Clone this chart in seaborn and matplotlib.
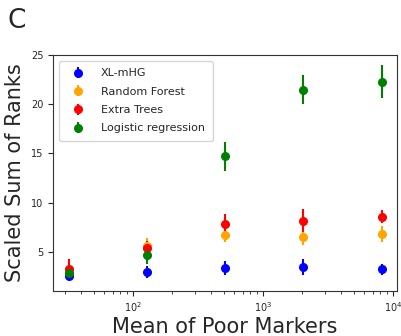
import numpy as np
import pandas as pd
import seaborn as sns
import matplotlib
matplotlib.use("Agg")
import matplotlib.pyplot as plt

# mean number of poor markers (x positions, log scale)
poor_markers = [32, 128, 512, 2048, 8192]

methods = ["XL-mHG", "Random Forest", "Extra Trees", "Logistic regression"]
colors = ["blue", "orange", "red", "green"]

# scaled sum of ranks
xlmhg_mean = [2.5, 2.95, 3.3, 3.45, 3.2]
rf_mean = [3.1, 5.6, 6.7, 6.5, 6.8]
et_mean = [3.25, 5.4, 7.85, 8.15, 8.55]
lr_mean = [2.8, 4.7, 14.7, 21.5, 22.3]

xlmhg_err = [0.4, 0.6, 0.7, 0.8, 0.55]
rf_err = [0.5, 0.8, 0.7, 0.8, 0.85]
et_err = [1.0, 0.7, 1.0, 1.15, 0.65]
lr_err = [0.4, 1.0, 1.5, 1.5, 1.7]

means = [xlmhg_mean, rf_mean, et_mean, lr_mean]
errs = [xlmhg_err, rf_err, et_err, lr_err]

rows = []
for m, mu, er in zip(methods, means, errs):
    for x, y, e in zip(poor_markers, mu, er):
        rows.append({"method": m, "poor": x, "score": y, "err": e})
df = pd.DataFrame(rows)

sns.set_style("ticks")
fig = plt.figure(figsize=(4.02, 3.36), dpi=100)
ax = fig.add_axes([0.132, 0.134, 0.856, 0.702])

for m, c in zip(methods, colors):
    d = df[df["method"] == m]
    ax.errorbar(d["poor"], d["score"], yerr=d["err"], fmt="o", color=c,
                ms=5.5, elinewidth=1.5, label=m)

ax.set_xscale("log")
ax.set_ylim(1.0, 25)
ax.set_yticks([5, 10, 15, 20, 25])
ax.tick_params(axis="both", labelsize=7, colors=".15")
ax.tick_params(axis="x", which="minor", length=2)
for s in ax.spines.values():
    s.set_color(".2")
    s.set_linewidth(0.8)

ax.set_xlabel("Mean of Poor Markers", fontsize=15, labelpad=2)
ax.set_ylabel("Scaled Sum of Ranks", fontsize=15, labelpad=4)
ax.legend(loc="upper left", fontsize=8, frameon=True, borderpad=0.7,
          handletextpad=1.1, labelspacing=0.75)

fig.text(0.018, 0.975, "C", fontsize=19, va="top", ha="left")

fig.savefig("out.png", dpi=100)
